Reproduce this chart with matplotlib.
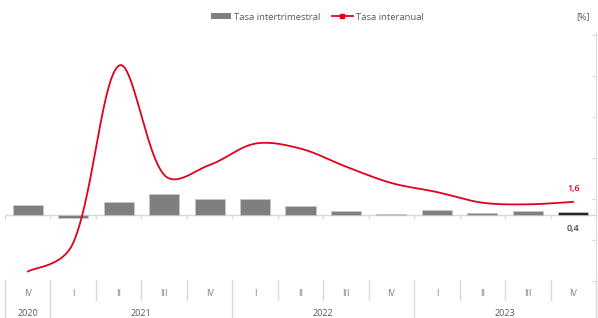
import numpy as np
import matplotlib as mpl
import matplotlib.pyplot as plt
from matplotlib.patches import Patch
from matplotlib.lines import Line2D

quarters = ['IV', 'I', 'II', 'III', 'IV', 'I', 'II', 'III', 'IV', 'I', 'II', 'III', 'IV']
years = ['2020', '2021', '2022', '2023']
year_size = [1, 4, 4, 4]
intertrimestral = [1.2, -0.4, 1.6, 2.6, 2.0, 2.0, 1.1, 0.5, 0.1, 0.6, 0.2, 0.5, 0.4]
interanual = [-6.9, -3.4, 18.2, 4.9, 6.1, 8.7, 8.1, 5.9, 3.9, 2.8, 1.5, 1.3, 1.6]
last_bar_label = '0,4'
last_line_label = '1,6'

# configuration
mpl.rcParams['font.family'] = ['Open Sans', 'DejaVu Sans']
red = '#e2001a'
grey = '#7f7f7f'
light = '#d9d9d9'
txt = '#595959'

W, H = 598, 318
scale = 8.2     # px per unit on y
xstep = 591 / len(quarters)  # px per category


def smooth(y, n=30):
    # excel-like bezier smoothing, control arms weighted by sqrt chord length (pixel space)
    y = np.asarray(y, float)
    P = np.column_stack([np.arange(len(y)) * xstep, y * scale])
    d = np.sqrt(np.hypot(*np.diff(P, axis=0).T))
    Pe = np.vstack([P[0], P, P[-1]])
    de = np.concatenate([[d[0]], d, [d[-1]]])
    t = np.linspace(0, 1, n)[:, None]
    out = []
    for i in range(len(P) - 1):
        p0, p1, p2, p3 = Pe[i], Pe[i + 1], Pe[i + 2], Pe[i + 3]
        c1 = p1 + (p2 - p0) * de[i + 1] / (de[i] + de[i + 1]) / 3
        c2 = p2 - (p3 - p1) * de[i + 1] / (de[i + 1] + de[i + 2]) / 3
        seg = (1 - t) ** 3 * p1 + 3 * (1 - t) ** 2 * t * c1 + 3 * (1 - t) * t ** 2 * c2 + t ** 3 * p2
        out.append(seg if i == 0 else seg[1:])
    out = np.vstack(out)
    return out[:, 0] / xstep, out[:, 1] / scale


fig = plt.figure(figsize=(W / 100, H / 100), dpi=100)
ax = fig.add_axes([5 / W, 0, 591 / W, 285 / H])

ax.set_ylim(-(318 - 215) / scale, (215 - 33) / scale)
ax.set_xlim(-0.5, len(quarters) - 0.5)

X = np.arange(len(quarters))
colors = [grey] * (len(X) - 1) + ['#262626']
ax.bar(X, intertrimestral, 0.66, color=colors, edgecolor='#c8c8c8', linewidth=0.5, zorder=2)

xs, ys = smooth(interanual)
ax.plot(xs, ys, color=red, lw=1.3, zorder=3, solid_capstyle='round')

# zero line and ticks
ax.axhline(0, color=light, lw=1, zorder=1)
bounds = np.arange(len(X) + 1) - 0.5
ax.vlines(bounds, -0.5, 0, color=light, lw=1, zorder=1)

# value labels
ax.text(X[-1], interanual[-1] + 1.6, last_line_label, color=red, fontsize=6.5,
        fontweight='semibold', ha='center', va='center')
ax.text(X[-1], -1.6, last_bar_label, color='#404040', fontsize=6.5,
        fontweight='semibold', ha='center', va='center')

# category axis
tr = ax.get_xaxis_transform()
yf = lambda p: (318 - p) / 285
for i, q in enumerate(quarters):
    ax.text(i, yf(293), q, transform=tr, ha='center', va='center', fontsize=6.5, color=grey)
year_bounds = np.concatenate([[0], np.cumsum(year_size)]) - 0.5
for b in bounds:
    top, bot = (yf(280), 0) if b in year_bounds else (yf(280), yf(300))
    ax.plot([b, b], [bot, top], transform=tr, color=light, lw=1, clip_on=False)
for j, yr in enumerate(years):
    c = (year_bounds[j] + year_bounds[j + 1]) / 2
    ax.text(c, yf(313), yr, transform=tr, ha='center', va='center', fontsize=6.5, color=txt)

# spines
for s in ['top', 'left', 'bottom']:
    ax.spines[s].set_visible(False)
ax.spines['right'].set_color(light)
ax.set_xticks([])
ax.set_yticks(np.arange(-8, 23, 5))
ax.tick_params(axis='y', left=False, right=True, labelleft=False, labelright=False,
               direction='in', length=3, color=light)

fig.text(583 / W, 1 - 17 / H, '[%]', fontsize=6.5, color=txt, ha='center', va='center')

handles = [Patch(facecolor=grey, edgecolor='none'),
           Line2D([], [], color=red, lw=1.3, marker='s', markersize=2.5)]
fig.legend(handles, ['Tasa intertrimestral', 'Tasa interanual'], ncol=2, loc='center',
           bbox_to_anchor=(317 / W, 1 - 17 / H), frameon=False, fontsize=6.8,
           handlelength=2.2, handleheight=0.5, handletextpad=0.3, columnspacing=1.2,
           labelcolor=txt)

fig.savefig('out.png', dpi=100)
